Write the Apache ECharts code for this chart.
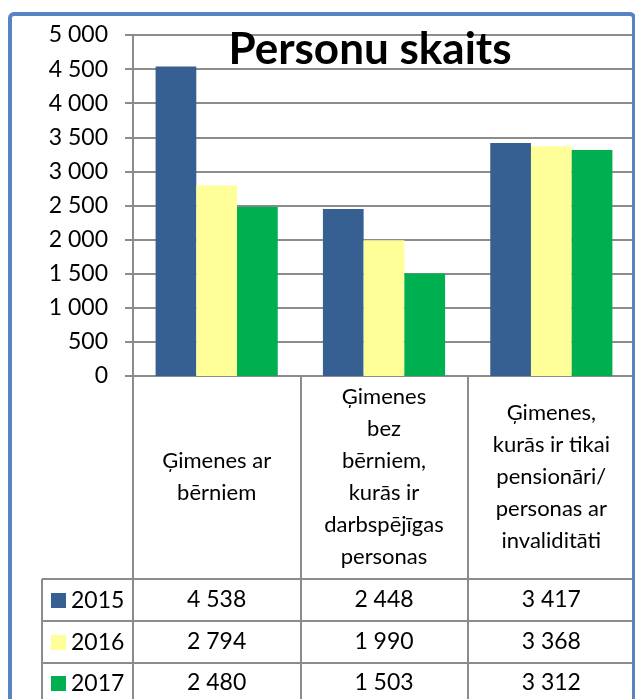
<!DOCTYPE html>
<html>
<head>
<meta charset="utf-8">
<script src="https://cdn.jsdelivr.net/npm/echarts@6/dist/echarts.min.js"></script>
<style>
  html, body { margin: 0; padding: 0; background: #fff; }
  #main { width: 635px; height: 699px; }
</style>
</head>
<body>
<div id="main"></div>
<script>
var categories = [
    'Ģimenes ar\nbērniem',
    'Ģimenes\nbez\nbērniem,\nkurās ir\ndarbspējīgas\npersonas',
    'Ģimenes,\nkurās ir tikai\npensionāri/\npersonas ar\ninvaliditāti'
];
var years = ['2015', '2016', '2017'];
var values2015 = [4538, 2448, 3417];
var values2016 = [2794, 1990, 3368];
var values2017 = [2480, 1503, 3312];
var yMin = 0, yMax = 5000, yStep = 500;

var colors = ['#376092', '#FFFF99', '#00B050'];
var gridColor = '#8c8c8c';
var font = 'Lato, "Open Sans", sans-serif';

// 4538 -> "4 538"
function fmt(v) {
    return String(v).replace(/\B(?=(\d{3})+(?!\d))/g, ' ');
}

var allValues = [values2015, values2016, values2017];

// rindas tabulā zem grafika - katra ir sava x ass ar vērtībām kā etiķetēm
var rowMargins = [224, 266, 307];
var legendTops = [589, 631, 672];

var tableAxes = allValues.map(function (vals, i) {
    return {
        type: 'category',
        gridIndex: 0,
        position: 'bottom',
        data: vals.map(fmt),
        axisLine: { show: false },
        axisTick: { show: false },
        splitLine: { show: false },
        axisLabel: {
            interval: 0,
            margin: rowMargins[i],
            verticalAlign: 'middle',
            color: '#000',
            fontFamily: font,
            fontSize: 23
        }
    };
});

// katrai rindai sava leģenda (lai nesalūztu kolonnās)
var legends = years.map(function (y, i) {
    return {
        data: [y],
        orient: 'vertical',
        left: 51,
        top: legendTops[i],
        padding: 0,
        itemWidth: 15,
        itemHeight: 15,
        icon: 'rect',
        textStyle: { color: '#000', fontFamily: font, fontSize: 23 }
    };
});

var myChart = echarts.init(document.getElementById('main'));
var option = {
    backgroundColor: '#fff',
    animation: false,
    color: colors,
    grid: { left: 133, top: 35, width: 504, height: 341 },
    legend: legends,
    xAxis: [{
        type: 'category',
        data: categories,
        axisLine: { lineStyle: { color: gridColor, width: 2 } },
        axisTick: {
            show: true,
            interval: 0,
            length: 330,
            lineStyle: { color: gridColor, width: 2 }
        },
        axisLabel: {
            interval: 0,
            margin: 101,
            verticalAlign: 'middle',
            align: 'center',
            lineHeight: 32,
            color: '#000',
            fontFamily: font,
            fontSize: 22
        }
    }].concat(tableAxes),
    yAxis: {
        type: 'value',
        min: yMin,
        max: yMax,
        interval: yStep,
        axisLine: { show: true, lineStyle: { color: gridColor, width: 2 } },
        axisTick: { show: true, length: 8, lineStyle: { color: gridColor, width: 2 } },
        splitLine: { lineStyle: { color: gridColor, width: 2 } },
        axisLabel: {
            margin: 25,
            color: '#000',
            fontFamily: font,
            fontSize: 23,
            formatter: fmt
        }
    },
    series: years.map(function (y, i) {
        return {
            name: y,
            type: 'bar',
            data: allValues[i],
            barGap: 0,
            barCategoryGap: '27%',
            xAxisIndex: 0
        };
    }),
    graphic: [
        // virsraksts
        {
            type: 'text',
            x: 370,
            y: 50,
            z: 100,
            style: {
                text: 'Personu skaits',
                align: 'center',
                verticalAlign: 'middle',
                font: 'bold 44px Lato, "Open Sans", sans-serif',
                fill: '#000'
            }
        },
        // tabulas līnijas
        { type: 'line', z: 50, shape: { x1: 42, y1: 579, x2: 640, y2: 579 }, style: { stroke: gridColor, lineWidth: 2 } },
        { type: 'line', z: 50, shape: { x1: 42, y1: 621, x2: 640, y2: 621 }, style: { stroke: gridColor, lineWidth: 2 } },
        { type: 'line', z: 50, shape: { x1: 42, y1: 663, x2: 640, y2: 663 }, style: { stroke: gridColor, lineWidth: 2 } },
        { type: 'line', z: 50, shape: { x1: 42, y1: 579, x2: 42, y2: 710 }, style: { stroke: gridColor, lineWidth: 2 } },
        // zilais rāmis
        {
            type: 'rect',
            z: 200,
            shape: { x: 10, y: 14, width: 624, height: 740, r: 4 },
            style: { fill: null, stroke: '#5583C3', lineWidth: 4 }
        }
    ]
};
myChart.setOption(option);
</script>
</body>
</html>
